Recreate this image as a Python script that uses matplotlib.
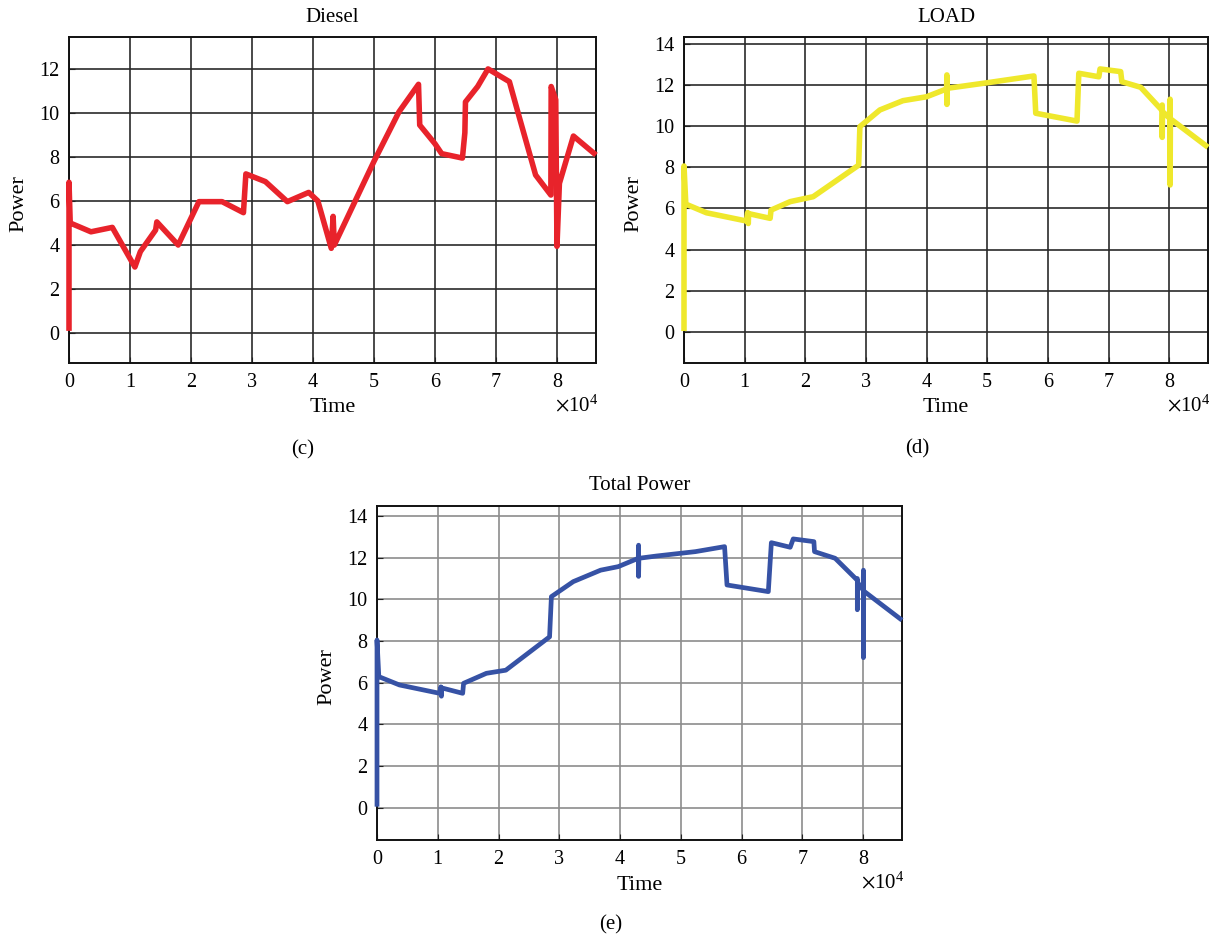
import matplotlib
matplotlib.use("Agg")
from matplotlib import pyplot as plt

# time in seconds, power values
diesel_t = [0, 0, 200, 3600, 7100, 10800, 11700, 14200, 14400, 17900,
            21300, 25100, 28600, 29000, 32200, 35800, 39300, 40800, 43000,
            43300, 43500, 50000, 54100, 57300, 57500, 60000, 61100, 64500,
            64900, 65000, 67000, 68700, 72200, 73800, 76500, 79000, 79050,
            79800, 80000, 80400, 82700, 86400]
diesel_p = [0.1, 6.85, 5.0, 4.6, 4.8, 3.0, 3.7, 4.68, 5.05, 4.0,
            5.97, 5.97, 5.47, 7.23, 6.88, 5.97, 6.39, 6.0, 3.85,
            5.3, 4.0, 7.8, 10.05, 11.3, 9.45, 8.6, 8.15, 7.95,
            9.1, 10.5, 11.2, 12.0, 11.42, 9.83, 7.18, 6.27, 11.2,
            10.6, 3.94, 6.8, 8.95, 8.09]

load_t = [0, 0, 300, 3700, 10300, 10500, 10600, 10650, 14200, 14350,
          17500, 21300, 28800, 29000, 32300, 36100, 40000, 43300, 43350,
          43350, 43400, 50000, 57700, 58000, 64800, 65100, 68400, 68600,
          72000, 72200, 75300, 78700, 78850, 78850, 78900, 80100, 80150,
          80150, 80200, 86400]
load_p = [0.05, 8.06, 6.21, 5.79, 5.39, 5.8, 5.27, 5.75, 5.52, 5.92,
          6.33, 6.57, 8.1, 9.97, 10.78, 11.23, 11.42, 11.8, 12.48,
          11.05, 11.83, 12.1, 12.43, 10.62, 10.24, 12.56, 12.39, 12.77,
          12.64, 12.15, 11.88, 10.8, 11.02, 9.45, 10.7, 10.37, 11.3,
          7.14, 10.35, 8.97]

total_t = [0, 0, 300, 3700, 10300, 10500, 10600, 10650, 14100, 14250,
           18000, 21200, 28400, 28700, 32300, 36800, 39700, 43000, 43050,
           43050, 43100, 46000, 52400, 57200, 57600, 64400, 64900, 68000,
           68500, 71900, 72000, 75400, 79000, 79050, 79050, 79100, 80000,
           80050, 80050, 80100, 86400]
total_p = [0.05, 8.05, 6.29, 5.89, 5.49, 5.8, 5.35, 5.75, 5.49, 5.97,
           6.45, 6.6, 8.2, 10.13, 10.85, 11.4, 11.57, 11.97, 12.6,
           11.1, 11.97, 12.08, 12.29, 12.53, 10.69, 10.37, 12.72, 12.5,
           12.9, 12.77, 12.29, 11.97, 10.93, 11.0, 9.5, 10.8, 10.45,
           11.4, 7.2, 10.4, 9.0]

xticks = [0, 10000, 20000, 30000, 40000, 50000, 60000, 70000, 80000]
xtick_labels = ["0", "1", "2", "3", "4", "5", "6", "7", "8"]
yticks_c = [0, 2, 4, 6, 8, 10, 12]
yticks_de = [0, 2, 4, 6, 8, 10, 12, 14]

plt.rcParams["font.family"] = ["Liberation Serif", "DejaVu Serif"]
plt.rcParams["mathtext.fontset"] = "stix"

W, H = 1219, 942
fig = plt.figure(figsize=(W / 100, H / 100), dpi=100)


def box(l, r, t, b):
    return [l / W, 1 - b / H, (r - l) / W, (b - t) / H]


def txt(x, y, s, size=15, **kw):
    fig.text(x / W, 1 - y / H, s, fontsize=size, va="center", **kw)


def panel(rect, t, p, color, lw, yticks, ylim, gridc, title, cap, capxy):
    ax = fig.add_axes(box(*rect))
    ax.plot(t, p, color=color, lw=lw, solid_joinstyle="round",
            solid_capstyle="butt", clip_on=False, zorder=3)
    ax.set_xlim(0, 86400)
    ax.set_ylim(*ylim)
    ax.set_xticks(xticks)
    ax.set_xticklabels(xtick_labels)
    ax.set_yticks(yticks)
    ax.grid(True, color=gridc, lw=1.2)
    ax.tick_params(direction="in", length=4, labelsize=14.5, pad=7,
                   color="#222222")
    for s in ax.spines.values():
        s.set_linewidth(1.4)
        s.set_color("#111111")
    l, r, tp, b = rect
    cx = (l + r) / 2
    txt(cx, tp - 20, title, ha="center")
    txt(cx, b + 45, "Time", ha="center", size=16)
    txt(r + 2, b + 43, r"$\times\mathregular{10^4}$", ha="right")
    txt(l - 50, (tp + b) / 2 + 4, "Power", ha="center", rotation=90, size=16)
    txt(capxy[0], capxy[1], cap, ha="center")
    return ax


panel((69, 596, 37, 363), diesel_t, diesel_p, "#e8232b", 4.0, yticks_c,
      (-1.36, 13.45), "#2a2a2a", "Diesel", "(c)", (303, 450))
panel((684, 1208, 37, 363), load_t, load_p, "#efe82c", 4.0, yticks_de,
      (-1.5, 14.32), "#2a2a2a", "LOAD", "(d)", (917, 449))
panel((377, 902, 506, 840), total_t, total_p, "#3652a5", 3.4, yticks_de,
      (-1.55, 14.48), "#8c8c8c", "Total Power", "(e)", (611, 925))

fig.savefig("out.png", dpi=100)
